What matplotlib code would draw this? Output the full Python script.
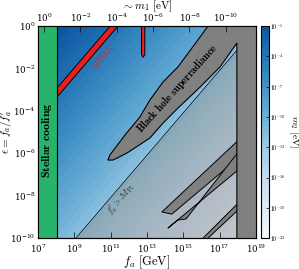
import numpy as np
import matplotlib
matplotlib.use('Agg')
import matplotlib.pyplot as plt
from matplotlib.colors import ListedColormap, BoundaryNorm
from matplotlib.cm import ScalarMappable
from matplotlib.patches import Polygon

plt.rcParams['font.family'] = 'serif'
plt.rcParams['font.serif'] = ['DejaVu Serif']
plt.rcParams['mathtext.fontset'] = 'cm'

# constants (log10 units)
log_m1_const = 7.33      # m1 [eV] ~ 10^7.33 / fa[GeV]
log_MPl = 19.09          # Planck mass [GeV]
log_fa_lim = [7, 19]
log_eps_lim = [-10, 0]

# colour levels of m2 (log10 eV)
m2_levels = np.arange(-22.0, -0.9, 0.5)
cbar_ticks = [-1, -4, -7, -10, -13, -16, -19, -22]

# excluded regions, (log10 fa, log10 eps)
stellar_fa = 8.05
admx_offset = [-11.40, -10.97]        # log eps - log fa band
admx_m1_fa = [12.70, 12.88]
admx_m1_bottom = -1.47
bh_upper = [(16.78, 0.5), (16.36, 0.0), (15.92, -0.52), (14.70, -1.93), (13.88, -2.64),
            (13.16, -3.49), (12.61, -4.29), (11.79, -5.14), (10.96, -6.08), (10.85, -6.32)]
bh_lower = [(11.13, -6.32), (11.90, -5.99), (13.16, -5.28), (13.88, -4.58), (14.70, -3.87),
            (15.92, -2.88), (17.02, -1.93), (17.95, -0.80)]
bh_strip = [(17.95, -10.5), (19.5, -10.5), (19.5, 0.5)]
spike_a = [(13.82, -8.77), (18.2, -5.25), (18.2, -6.10), (14.37, -8.87)]
spike_b = [(14.15, -9.53), (14.70, -9.15), (15.15, -9.10), (18.2, -5.75), (18.2, -6.66)]
band_c = [(15.50, -10.5), (18.2, -8.20), (18.2, -8.53), (15.74, -10.5)]

def poly(pts):
    a = np.array(pts)
    return np.column_stack([10**a[:, 0], 10**a[:, 1]])

fig = plt.figure(figsize=(2.99, 2.69), dpi=100)
ax = fig.add_axes([0.127, 0.115, 0.729, 0.788])
cax = fig.add_axes([0.873, 0.115, 0.027, 0.788])

# background m2 = m1 * eps
lfa = np.linspace(log_fa_lim[0], log_fa_lim[1], 400)
leps = np.linspace(log_eps_lim[0], log_eps_lim[1], 400)
LF, LE = np.meshgrid(lfa, leps)
log_m2 = log_m1_const - LF + LE
cmap = ListedColormap(plt.cm.Blues(np.linspace(0.02, 0.85, 256)))
norm = BoundaryNorm(m2_levels, cmap.N)
ax.contourf(10**LF, 10**LE, np.clip(log_m2, -21.99, -1.01), levels=m2_levels,
            cmap=cmap, norm=norm, zorder=0)

# f'_a > M_Pl
fa = np.logspace(9, 19.2, 200)
ax.fill_between(fa, 1e-11, fa / 10**log_MPl, color='grey', alpha=0.38, lw=0, zorder=1)
ax.plot(fa, fa / 10**log_MPl, color='k', lw=0.5, zorder=1.5)

# ADMX
fa_admx = np.array([stellar_fa - 0.1, 11.6])
admx = [(x, x + admx_offset[0]) for x in fa_admx] + [(x, x + admx_offset[1]) for x in fa_admx[::-1]]
ax.add_patch(Polygon(poly(admx), closed=True, fc='#e8201c', ec='k', lw=0.7, zorder=2))
f0, f1 = admx_m1_fa
sliver = [(f0, 0.5), (f0, admx_m1_bottom + 0.12), ((f0 + f1) / 2, admx_m1_bottom),
          (f1, admx_m1_bottom + 0.12), (f1, 0.5)]
ax.add_patch(Polygon(poly(sliver), closed=True, fc='#e8201c', ec='k', lw=0.7, zorder=2))

# stellar cooling
ax.add_patch(Polygon(poly([(6.5, -10.5), (stellar_fa, -10.5), (stellar_fa, 0.5), (6.5, 0.5)]),
                     closed=True, fc='#27b36a', ec='k', lw=0.8, zorder=3))

# black hole superradiance
for pts in [spike_a, spike_b, band_c]:
    ax.add_patch(Polygon(poly(pts), closed=True, fc='#808080', ec='k', lw=0.7, zorder=3))
ax.add_patch(Polygon(poly(bh_upper + bh_lower + bh_strip), closed=True,
                     fc='#808080', ec='k', lw=0.8, zorder=3.5))

# labels in the plot
ax.text(10**7.5, 10**-5.4, r'$\mathbf{Stellar\ cooling}$', rotation=90, fontsize=8.5,
        ha='center', va='center', zorder=5)
ax.text(10**10.52, 10**-1.46, r'$\mathrm{ADMX}$', rotation=49, fontsize=7, color='#e8201c',
        ha='center', va='center', zorder=5)
ax.text(10**14.65, 10**-2.92, r'$\mathbf{Black\ hole\ superradiance}$', rotation=48, fontsize=7.5,
        ha='center', va='center', zorder=5)
ax.text(10**11.57, 10**-8.16, r"$f_a^\prime > M_{\rm Pl}$", rotation=49, fontsize=7, color='#333333',
        ha='center', va='center', zorder=5)

ax.set_xscale('log')
ax.set_yscale('log')
ax.set_xlim(10**log_fa_lim[0], 10**log_fa_lim[1])
ax.set_ylim(10**log_eps_lim[0], 10**log_eps_lim[1])
ax.set_xticks([10.0**k for k in range(7, 20, 2)])
ax.set_yticks([10.0**k for k in range(-10, 1, 2)])
ax.minorticks_off()
ax.tick_params(direction='in', labelsize=6.2, length=4, width=0.5, right=True, top=False)
ax.tick_params(axis='x', pad=3)
ax.tick_params(axis='y', pad=2)
ax.set_xlabel(r'$f_a\ [\mathrm{GeV}]$', fontsize=9)
ax.xaxis.set_label_coords(0.5, -0.072)
ax.set_ylabel(r'$\epsilon = f_a / f_a^\prime$', fontsize=8)
ax.yaxis.set_label_coords(-0.108, 0.5)

ax2 = ax.twiny()
ax2.set_xscale('log')
ax2.set_xlim(10**(log_m1_const - log_fa_lim[0]), 10**(log_m1_const - log_fa_lim[1]))
ax2.set_xticks([10.0**k for k in range(0, -11, -2)])
ax2.minorticks_off()
ax2.tick_params(direction='in', labelsize=6.2, length=4, width=0.5, pad=1.5)
ax2.set_xlabel(r'$\sim m_1\ [\mathrm{eV}]$', fontsize=8)
ax2.xaxis.set_label_coords(0.5, 1.078)

sm = ScalarMappable(norm=norm, cmap=cmap)
cb = fig.colorbar(sm, cax=cax, ticks=cbar_ticks)
cb.ax.set_yticklabels([r'$10^{%d}$' % t for t in cbar_ticks])
cb.ax.tick_params(labelsize=4.3, length=2, width=0.5, direction='in', pad=1)
cb.ax.minorticks_off()
cb.set_label(r'$m_2\ [\mathrm{eV}]$', fontsize=7, rotation=270)
cb.ax.yaxis.set_label_coords(4.9, 0.5)
cb.outline.set_linewidth(0.8)

fig.savefig('out.png', dpi=100)
